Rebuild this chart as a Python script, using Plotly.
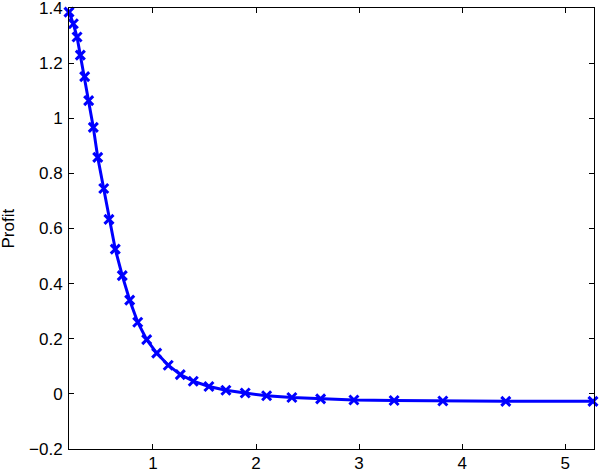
import plotly.graph_objects as go

x_vals = [0.185, 0.227, 0.263, 0.295, 0.337, 0.376, 0.421, 0.464, 0.522, 0.573,
          0.634, 0.702, 0.774, 0.852, 0.939, 1.036, 1.148, 1.265, 1.391, 1.543,
          1.708, 1.895, 2.103, 2.348, 2.627, 2.950, 3.340, 3.813, 4.424, 5.27]
profit = [1.385, 1.343, 1.295, 1.229, 1.151, 1.064, 0.967, 0.858, 0.745, 0.633,
          0.525, 0.429, 0.340, 0.260, 0.197, 0.148, 0.104, 0.070, 0.046, 0.027,
          0.013, 0.003, -0.007, -0.013, -0.018, -0.022, -0.024, -0.026, -0.027, -0.027]

x_ticks = [1, 2, 3, 4, 5]
y_ticks = [-0.2, 0, 0.2, 0.4, 0.6, 0.8, 1, 1.2, 1.4]
y_tick_text = ["\u22120.2", "0", "0.2", "0.4", "0.6", "0.8", "1", "1.2", "1.4"]

FONT = "Liberation Sans, Arial, sans-serif"

fig = go.Figure()
fig.add_trace(go.Scatter(
    x=x_vals, y=profit, mode="lines+markers",
    line=dict(color="#0000ff", width=3),
    marker=dict(symbol="x-thin-open", size=9, color="#0000ff",
                line=dict(color="#0000ff", width=3)),
    cliponaxis=False, showlegend=False,
))

axis_common = dict(
    showgrid=False, zeroline=False, showline=True, linecolor="black", linewidth=1,
    mirror="allticks", ticks="inside", ticklen=5, tickcolor="black",
    automargin=False, ticklabeloverflow="allow",
    tickfont=dict(family=FONT, size=17, color="black"),
)

fig.update_layout(
    width=600, height=472,
    margin=dict(l=69, r=6, t=8, b=23),
    paper_bgcolor="white", plot_bgcolor="white",
    xaxis=dict(range=[0.185, 5.28], tickvals=x_ticks, ticklabelstandoff=-1, **axis_common),
    yaxis=dict(range=[-0.2, 1.4001], tickvals=y_ticks, ticktext=y_tick_text,
               ticklabelstandoff=2, **axis_common),
    annotations=[dict(text="Profit", textangle=-90, xref="paper", yref="paper",
                      x=-(69 - 8) / 525, y=0.5, xanchor="center", yanchor="middle",
                      showarrow=False, font=dict(family=FONT, size=17, color="black"))],
)

fig.write_html("out.html", config={"displayModeBar": False},
               post_script="document.body.style.margin='0';")
